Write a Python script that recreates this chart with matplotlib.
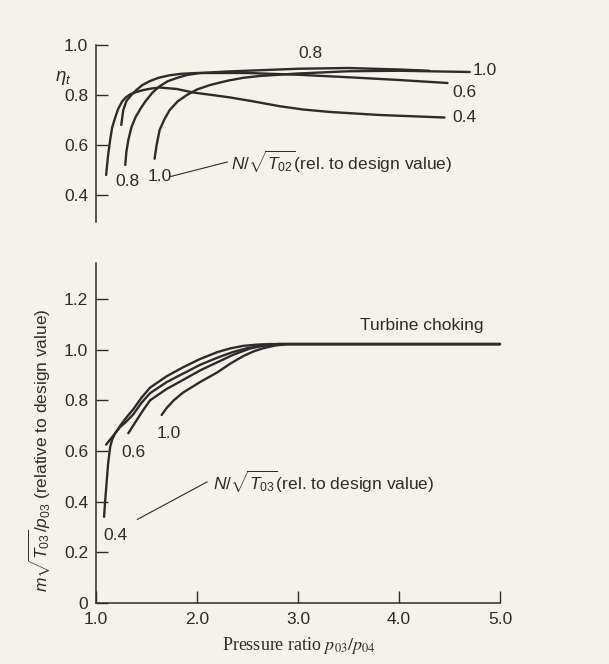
import matplotlib.pyplot as plt

# top panel: isentropic efficiency vs pressure ratio, one curve per N/sqrt(T02)
eff_04_x = [1.10, 1.12, 1.14, 1.16, 1.19, 1.22, 1.26, 1.30, 1.34, 1.40, 1.47, 1.55, 1.63, 1.80, 1.96, 2.15, 2.33, 2.55, 2.82, 3.05, 3.32, 3.81, 4.45]
eff_04_y = [0.48, 0.56, 0.62, 0.67, 0.71, 0.745, 0.775, 0.792, 0.803, 0.812, 0.82, 0.826, 0.83, 0.824, 0.81, 0.80, 0.79, 0.775, 0.755, 0.742, 0.732, 0.72, 0.71]
eff_06_x = [1.25, 1.27, 1.30, 1.35, 1.40, 1.46, 1.53, 1.62, 1.73, 1.85, 2.00, 2.50, 3.00, 3.50, 4.00, 4.48]
eff_06_y = [0.68, 0.74, 0.775, 0.80, 0.82, 0.84, 0.855, 0.869, 0.879, 0.885, 0.888, 0.888, 0.881, 0.871, 0.86, 0.848]
eff_08_x = [1.29, 1.30, 1.32, 1.35, 1.39, 1.44, 1.49, 1.56, 1.63, 1.71, 1.80, 1.90, 2.03, 2.30, 2.62, 3.00, 3.50, 4.00, 4.30]
eff_08_y = [0.52, 0.57, 0.62, 0.67, 0.71, 0.745, 0.775, 0.81, 0.835, 0.855, 0.868, 0.88, 0.888, 0.894, 0.899, 0.905, 0.908, 0.902, 0.897]
eff_10_x = [1.58, 1.60, 1.63, 1.68, 1.73, 1.81, 1.90, 2.00, 2.13, 2.30, 2.46, 2.62, 3.00, 3.50, 4.00, 4.70]
eff_10_y = [0.545, 0.60, 0.66, 0.705, 0.74, 0.775, 0.80, 0.822, 0.84, 0.857, 0.869, 0.876, 0.886, 0.895, 0.897, 0.892]

# bottom panel: non-dimensional mass flow vs pressure ratio
flow_04_x = [1.08, 1.09, 1.10, 1.11, 1.12, 1.14, 1.16, 1.19, 1.24, 1.30, 1.37, 1.45, 1.535, 1.70, 1.86, 2.03, 2.20, 2.33, 2.46, 2.60, 2.72, 5.0]
flow_04_y = [0.34, 0.40, 0.45, 0.50, 0.55, 0.615, 0.645, 0.67, 0.70, 0.732, 0.765, 0.81, 0.85, 0.895, 0.93, 0.963, 0.99, 1.005, 1.015, 1.02, 1.022, 1.022]
flow_06_x = [1.10, 1.14, 1.18, 1.24, 1.30, 1.37, 1.45, 1.535, 1.70, 1.86, 2.03, 2.20, 2.35, 2.50, 2.65, 2.80, 5.0]
flow_06_y = [0.625, 0.645, 0.665, 0.695, 0.716, 0.745, 0.79, 0.828, 0.872, 0.905, 0.94, 0.968, 0.99, 1.006, 1.016, 1.022, 1.022]
flow_08_x = [1.32, 1.36, 1.40, 1.46, 1.535, 1.70, 1.86, 2.03, 2.20, 2.36, 2.52, 2.66, 2.80, 5.0]
flow_08_y = [0.67, 0.695, 0.72, 0.757, 0.80, 0.845, 0.88, 0.918, 0.95, 0.98, 1.004, 1.016, 1.022, 1.022]
flow_10_x = [1.65, 1.70, 1.77, 1.86, 2.03, 2.20, 2.33, 2.46, 2.56, 2.65, 2.77, 2.90, 5.0]
flow_10_y = [0.742, 0.77, 0.80, 0.83, 0.872, 0.91, 0.945, 0.975, 0.993, 1.005, 1.016, 1.022, 1.022]

eff_ticks = [0.4, 0.6, 0.8, 1.0]
flow_ticks = [0, 0.2, 0.4, 0.6, 0.8, 1.0, 1.2]
flow_ticklabels = ['0', '0.2', '0.4', '0.6', '0.8', '1.0', '1.2']
pr_ticks = [1.0, 2.0, 3.0, 4.0, 5.0]

plt.rcParams['font.family'] = ['Liberation Sans', 'DejaVu Sans']
plt.rcParams['mathtext.fontset'] = 'custom'
plt.rcParams['mathtext.rm'] = 'Liberation Sans'
plt.rcParams['mathtext.it'] = 'Liberation Sans:italic'
plt.rcParams['mathtext.bf'] = 'Liberation Sans:bold'

ink = '#2c2c2c'
paper = '#f4f2ea'
fs = 12.5
lw = 1.7

fig = plt.figure(figsize=(6.09, 6.64), dpi=100, facecolor=paper)
ax1 = fig.add_axes([96/609, 1 - 222/664, 404/609, 177/664])
ax2 = fig.add_axes([96/609, 1 - 603/664, 404/609, 340/664])

for ax in (ax1, ax2):
    ax.set_facecolor('none')
    ax.spines['top'].set_visible(False)
    ax.spines['right'].set_visible(False)
    for s in ax.spines.values():
        s.set_color(ink)
        s.set_linewidth(1.1)
    ax.tick_params(direction='in', length=8.5, width=1.0, color=ink,
                   labelcolor=ink, labelsize=fs, pad=5.5)
    ax.set_xlim(1.0, 5.0)

# --- top: efficiency
for xs, ys in [(eff_04_x, eff_04_y), (eff_06_x, eff_06_y),
               (eff_08_x, eff_08_y), (eff_10_x, eff_10_y)]:
    ax1.plot(xs, ys, color=ink, lw=lw, solid_capstyle='round',
             solid_joinstyle='round', clip_on=False)
ax1.set_ylim(0.292, 1.0)
ax1.spines['bottom'].set_visible(False)
ax1.set_xticks([])
ax1.set_yticks(eff_ticks)
ax1.set_yticklabels(['%.1f' % t for t in eff_ticks])

ax1.text(0.68, 0.868, r'$\eta_t$', fontsize=fs + 1, color=ink, ha='center', va='center', clip_on=False)
ax1.text(3.12, 0.968, '0.8', fontsize=fs, color=ink, ha='center', va='center')
ax1.text(4.73, 0.897, '1.0', fontsize=fs, color=ink, ha='left', va='center')
ax1.text(4.53, 0.810, '0.6', fontsize=fs, color=ink, ha='left', va='center')
ax1.text(4.53, 0.708, '0.4', fontsize=fs, color=ink, ha='left', va='center')
ax1.text(1.31, 0.452, '0.8', fontsize=fs, color=ink, ha='center', va='center')
ax1.text(1.63, 0.474, '1.0', fontsize=fs, color=ink, ha='center', va='center')
ax1.plot([1.73, 2.30], [0.473, 0.532], color=ink, lw=0.8)
ax1.text(2.34, 0.532, r'$N/\sqrt{T_{02}}$(rel. to design value)', fontsize=fs,
         color=ink, ha='left', va='center')

# --- bottom: mass flow
for xs, ys in [(flow_04_x, flow_04_y), (flow_06_x, flow_06_y),
               (flow_08_x, flow_08_y), (flow_10_x, flow_10_y)]:
    ax2.plot(xs, ys, color=ink, lw=lw, solid_capstyle='round',
             solid_joinstyle='round', clip_on=False)
ax2.set_ylim(0, 1.342)
ax2.set_yticks(flow_ticks)
ax2.set_yticklabels(flow_ticklabels)
ax2.set_xticks(pr_ticks)
ax2.set_xticklabels(['%.1f' % t for t in pr_ticks])
ax2.tick_params(axis='x', pad=6.5)

ax2.text(3.61, 1.097, 'Turbine choking', fontsize=fs, color=ink, ha='left', va='center')
ax2.text(1.19, 0.268, '0.4', fontsize=fs, color=ink, ha='center', va='center')
ax2.text(1.37, 0.596, '0.6', fontsize=fs, color=ink, ha='center', va='center')
ax2.text(1.72, 0.670, '1.0', fontsize=fs, color=ink, ha='center', va='center')
ax2.plot([1.41, 2.10], [0.33, 0.478], color=ink, lw=0.8)
ax2.text(2.16, 0.478, r'$N/\sqrt{T_{03}}$(rel. to design value)', fontsize=fs,
         color=ink, ha='left', va='center')

fig.text(40/609, 1 - 450/664, r'$m\sqrt{T_{03}}/p_{03}$ (relative to design value)',
         rotation=90, fontsize=fs, color=ink, ha='center', va='center')
fig.text(299/609, 1 - 645/664, r'Pressure ratio $p_{03}/p_{04}$', fontsize=fs + 0.5,
         color=ink, ha='center', va='center', family='Liberation Serif',
         math_fontfamily='stix')

fig.savefig('out.png', dpi=100, facecolor=paper)
